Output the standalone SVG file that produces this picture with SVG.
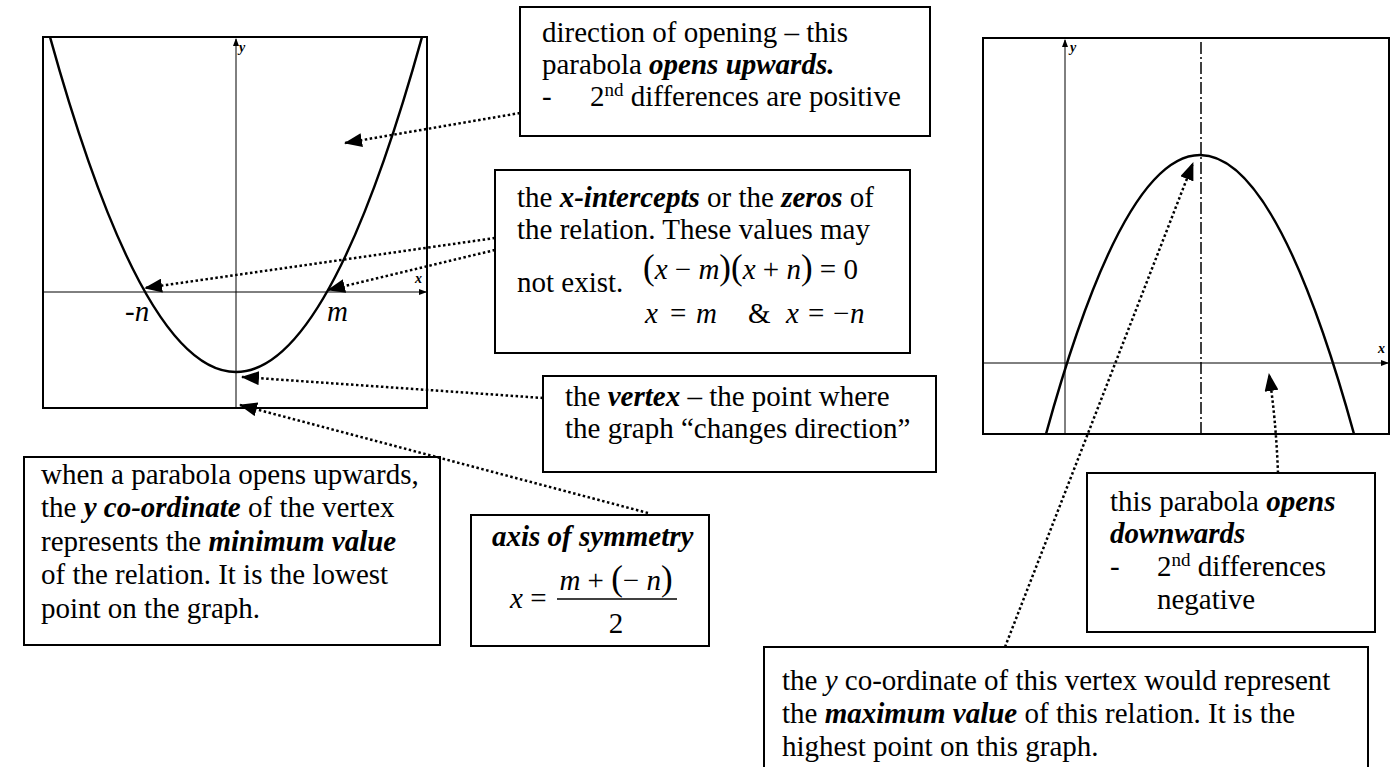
<svg xmlns="http://www.w3.org/2000/svg" width="1395" height="767" viewBox="0 0 1395 767">
<style>
.box{fill:#fff;stroke:#000;stroke-width:2}
.frame{fill:none;stroke:#000;stroke-width:2}
.axis{stroke:#000;stroke-width:1;fill:none}
.curve{fill:none;stroke:#000;stroke-width:2.5}
.t{font-family:"Liberation Serif","Times New Roman",serif;font-size:29px;fill:#000}
.bi{font-weight:bold;font-style:italic}
.i{font-style:italic}
.sup{font-size:19px}
.lab{font-family:"Liberation Serif","Times New Roman",serif;font-size:14px;font-weight:bold;font-style:italic}
.dot{stroke:#000;stroke-width:2.5;stroke-dasharray:2.5 2.5;fill:none}
</style>
<defs>
<marker id="ah" markerUnits="userSpaceOnUse" markerWidth="18" markerHeight="14" refX="17" refY="7" orient="auto">
<path d="M0,0 L18,7 L0,14 Z" fill="#000"/>
</marker>
<marker id="sa" markerUnits="userSpaceOnUse" markerWidth="8" markerHeight="6" refX="7" refY="3" orient="auto">
<path d="M0,0 L8,3 L0,6 Z" fill="#000"/>
</marker>
</defs>

<g id="graph-up">
<rect class="frame" x="43" y="37" width="384" height="371"/>
<line class="axis" x1="236" y1="408" x2="236" y2="39" marker-end="url(#sa)"/>
<line class="axis" x1="43" y1="292" x2="426" y2="292" marker-end="url(#sa)"/>
<path class="curve" d="M50,37 Q236,707 422,37"/>
<text class="lab" x="239" y="52">y</text>
<text class="lab" x="415" y="283">x</text>
<text class="t i" x="125" y="321">-n</text>
<text class="t i" x="327" y="321">m</text>
</g>

<g id="graph-down">
<rect class="frame" x="983" y="38" width="406" height="396"/>
<line class="axis" x1="1065" y1="434" x2="1065" y2="40" marker-end="url(#sa)"/>
<line class="axis" x1="983" y1="363" x2="1388" y2="363" marker-end="url(#sa)"/>
<line stroke="#000" stroke-width="1.5" stroke-dasharray="12 3 2 3" x1="1201" y1="42" x2="1201" y2="434"/>
<path class="curve" d="M1046,434 Q1200,-124 1354,434"/>
<text class="lab" x="1070" y="52">y</text>
<text class="lab" x="1378" y="353">x</text>
</g>

<g id="box-opening">
<rect class="box" x="520" y="7" width="410" height="129"/>
<text class="t" x="542" y="42">direction of opening – this</text>
<text class="t" x="542" y="74">parabola <tspan class="bi">opens upwards.</tspan></text>
<text class="t" x="542" y="106">-<tspan x="590">2</tspan><tspan class="sup" dy="-10">nd</tspan><tspan dy="10"> differences are positive</tspan></text>
</g>

<g id="box-intercepts">
<rect class="box" x="495" y="170" width="415" height="183"/>
<text class="t" x="517" y="207">the <tspan class="bi">x-intercepts</tspan> or the <tspan class="bi">zeros</tspan> of</text>
<text class="t" x="517" y="239">the relation. These values may</text>
<text class="t" x="517" y="292">not exist.</text>
<text class="t" x="643" y="279"><tspan font-size="35">(</tspan><tspan class="i">x</tspan> − <tspan class="i">m</tspan><tspan font-size="35">)(</tspan><tspan class="i">x</tspan> + <tspan class="i">n</tspan><tspan font-size="35">)</tspan> = 0</text>
<text class="t" x="645" y="323"><tspan class="i">x</tspan><tspan x="670">=</tspan><tspan x="696" class="i">m</tspan><tspan x="748">&amp;</tspan><tspan x="786" class="i">x</tspan><tspan x="808">=</tspan><tspan x="833">−</tspan><tspan x="850" class="i">n</tspan></text>
</g>

<g id="box-vertex">
<rect class="box" x="543" y="376" width="393" height="96"/>
<text class="t" x="565" y="406">the <tspan class="bi">vertex</tspan> – the point where</text>
<text class="t" x="565" y="438">the graph “changes direction”</text>
</g>

<g id="box-minimum">
<rect class="box" x="24" y="457" width="416" height="188"/>
<text class="t" x="41" y="484">when a parabola opens upwards,</text>
<text class="t" x="41" y="517">the <tspan class="bi">y co-ordinate</tspan> of the vertex</text>
<text class="t" x="41" y="551">represents the <tspan class="bi">minimum value</tspan></text>
<text class="t" x="41" y="584">of the relation. It is the lowest</text>
<text class="t" x="41" y="618">point on the graph.</text>
</g>

<g id="box-axis">
<rect class="box" x="471" y="515" width="238" height="131"/>
<text class="t bi" x="492" y="546">axis of symmetry</text>
<text class="t" x="510" y="608"><tspan class="i">x</tspan> =</text>
<text class="t" x="616" y="590" text-anchor="middle"><tspan class="i">m</tspan> + <tspan font-size="35">(</tspan>− <tspan class="i">n</tspan><tspan font-size="35">)</tspan></text>
<line stroke="#000" stroke-width="1.3" x1="557" y1="599" x2="677" y2="599"/>
<text class="t" x="616" y="633" text-anchor="middle">2</text>
</g>

<g id="box-downwards">
<rect class="box" x="1087" y="473" width="288" height="159"/>
<text class="t" x="1110" y="511">this parabola <tspan class="bi">opens</tspan></text>
<text class="t bi" x="1110" y="543">downwards</text>
<text class="t" x="1110" y="576">-<tspan x="1157">2</tspan><tspan class="sup" dy="-10">nd</tspan><tspan dy="10"> differences</tspan></text>
<text class="t" x="1157" y="609">negative</text>
</g>

<g id="box-maximum">
<rect class="box" x="764" y="647" width="604" height="125"/>
<text class="t" x="782" y="690">the <tspan class="i">y</tspan> co-ordinate of this vertex would represent</text>
<text class="t" x="782" y="723">the <tspan class="bi">maximum value</tspan> of this relation. It is the</text>
<text class="t" x="782" y="756">highest point on this graph.</text>
</g>

<g id="connectors">
<line class="dot" x1="520" y1="113" x2="345" y2="143" marker-end="url(#ah)"/>
<line class="dot" x1="495" y1="238" x2="145" y2="288" marker-end="url(#ah)"/>
<line class="dot" x1="495" y1="250" x2="328" y2="290" marker-end="url(#ah)"/>
<line class="dot" x1="543" y1="398" x2="242" y2="377" marker-end="url(#ah)"/>
<line class="dot" x1="648" y1="513" x2="240" y2="405" marker-end="url(#ah)"/>
<line class="dot" x1="1005" y1="647" x2="1193" y2="163" marker-end="url(#ah)"/>
<path class="dot" d="M1278,473 Q1276,420 1269,374" marker-end="url(#ah)"/>
</g>
</svg>
